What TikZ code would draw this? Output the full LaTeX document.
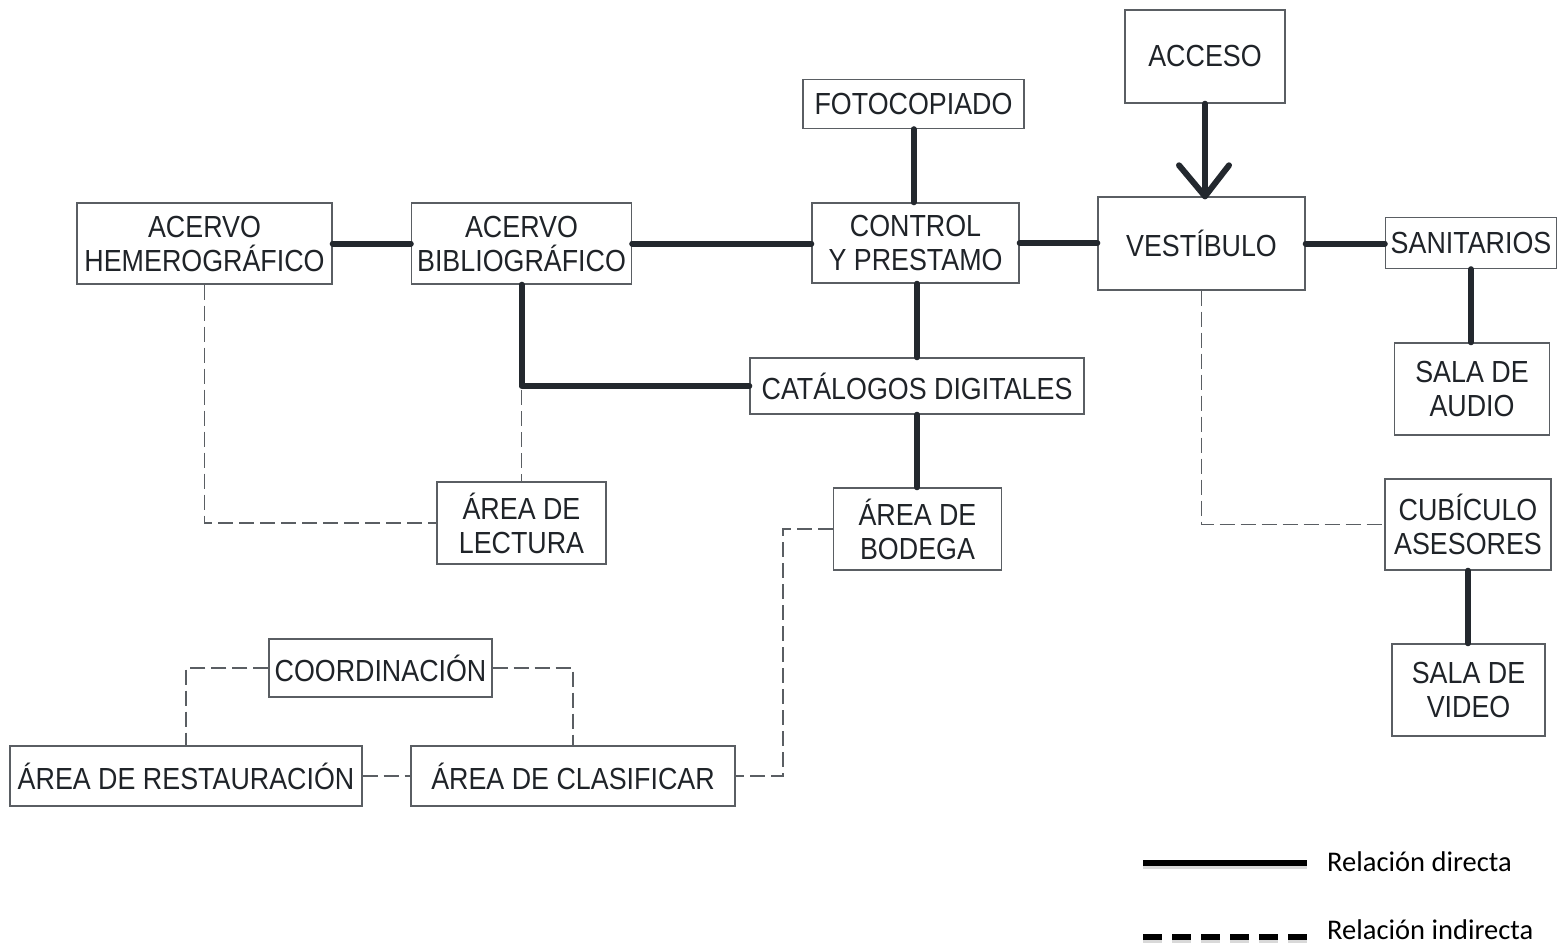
\documentclass[tikz,border=0pt]{standalone}
\usepackage{fontspec}
\setmainfont{Liberation Sans}[FakeStretch=0.88]
\newfontfamily\legendfont{Carlito}
\usetikzlibrary{calc}
\definecolor{inkdark}{HTML}{23282E}
\definecolor{boxgray}{HTML}{5A5E63}
\definecolor{txtdark}{HTML}{1F2328}
\begin{document}
\begin{tikzpicture}[x=1pt,y=-1pt,
  box/.style={draw=boxgray, line width=1.4pt, inner sep=0pt, align=center,
    text=txtdark, font=\fontsize{30.5}{34}\selectfont},
  direct/.style={draw=inkdark, line width=6pt, line cap=round, line join=round},
  indirect/.style={draw=boxgray, line width=1.3pt, dash pattern=on 15pt off 6pt},
  legendtxt/.style={anchor=base west, inner sep=0pt, text=black,
    font=\legendfont\fontsize{28.5}{32}\selectfont},
  legshadow/.style={draw=black!25, line width=6pt, opacity=0.6}]
\useasboundingbox (0,0) rectangle (1560,947);

% rooms
\node[box, minimum width=160, minimum height=93] (acceso) at (1205,56.5) {ACCESO};
\node[box, minimum width=221, minimum height=49] (foto) at (913.5,104) {FOTOCOPIADO};
\node[box, minimum width=255, minimum height=81] (hem) at (204.5,243.5) {ACERVO\\HEMEROGRÁFICO};
\node[box, minimum width=220, minimum height=81] (bib) at (521.5,243.5) {ACERVO\\BIBLIOGRÁFICO};
\node[box, minimum width=207, minimum height=80] (control) at (915.5,243) {CONTROL\\Y PRESTAMO};
\node[box, minimum width=207, minimum height=93] (vest) at (1201.5,243.5) {VESTÍBULO};
\node[box, minimum width=171, minimum height=51] (sanit) at (1471,243) {SANITARIOS};
\node[box, minimum width=155, minimum height=92] (audio) at (1472,389) {SALA DE\\AUDIO};
\node[box, minimum width=334, minimum height=56] (catal) at (917,386) {CATÁLOGOS DIGITALES};
\node[box, minimum width=169, minimum height=82] (lectura) at (521.5,523) {ÁREA DE\\LECTURA};
\node[box, minimum width=168, minimum height=82] (bodega) at (917.5,529) {ÁREA DE\\BODEGA};
\node[box, minimum width=166, minimum height=91] (cubic) at (1468,524.5) {CUBÍCULO\\ASESORES};
\node[box, minimum width=153, minimum height=92] (video) at (1468.5,690) {SALA DE\\VIDEO};
\node[box, minimum width=223, minimum height=58] (coord) at (380.5,668) {COORDINACIÓN};
\node[box, minimum width=352, minimum height=60] (restaur) at (186,776) {ÁREA DE RESTAURACIÓN};
\node[box, minimum width=324, minimum height=60] (clasif) at (573,776) {ÁREA DE CLASIFICAR};

% direct relations
\draw[direct] (hem.east) -- (hem.east -| bib.west);
\draw[direct] (bib.east) -- (bib.east -| control.west);
\draw[direct] (foto.south) -- (foto.south |- control.north);
\draw[direct] (control.east) -- (control.east -| vest.west);
\draw[direct] (vest.east) -- (vest.east -| sanit.west);
\draw[direct] (sanit.south) -- (sanit.south |- audio.north);
\draw[direct] (catal.north) -- (catal.north |- control.south);
\draw[direct] (catal.south) -- (catal.south |- bodega.north);
\draw[direct] (bib.south) |- (catal.west);
\draw[direct] (cubic.south) -- (cubic.south |- video.north);

% entrance arrow
\coordinate (arrtip) at (acceso.south |- vest.north);
\draw[direct] (acceso.south) -- (arrtip);
\draw[direct] ($(arrtip)+(-26,-31)$) -- (arrtip) -- ($(arrtip)+(24,-31)$);

% indirect relations
\coordinate (bibcorner) at (bib.south |- catal.west);
\coordinate (bodbend) at (783,529);
\draw[indirect] (hem.south) |- (lectura.west);
\draw[indirect] ($(bibcorner)+(0,4)$) -- (bibcorner |- lectura.north);
\draw[indirect] (vest.south) |- (cubic.west);
\draw[indirect] (bodega.west) -- (bodega.west -| bodbend) |- (clasif.east);
\draw[indirect] (coord.west) -| (restaur.north);
\draw[indirect] (coord.east) -| (clasif.north);
\draw[indirect] (restaur.east) -- (clasif.west);

% legend
\coordinate (ld1) at (1143,863);
\coordinate (ld2) at (1307,863);
\coordinate (li1) at (1143,937);
\coordinate (li2) at (1307,937);
\draw[legshadow] ($(ld1)+(0,3)$) -- ($(ld2)+(0,3)$);
\draw[black, line width=6pt] (ld1) -- (ld2);
\draw[legshadow, dash pattern=on 19pt off 10pt] ($(li1)+(0,3)$) -- ($(li2)+(0,3)$);
\draw[black, line width=6pt, dash pattern=on 19pt off 10pt] (li1) -- (li2);
\node[legendtxt] (ldtxt) at (1327,871) {Relación directa};
\node[legendtxt] (litxt) at (1327,939) {Relación indirecta};
\end{tikzpicture}
\end{document}
